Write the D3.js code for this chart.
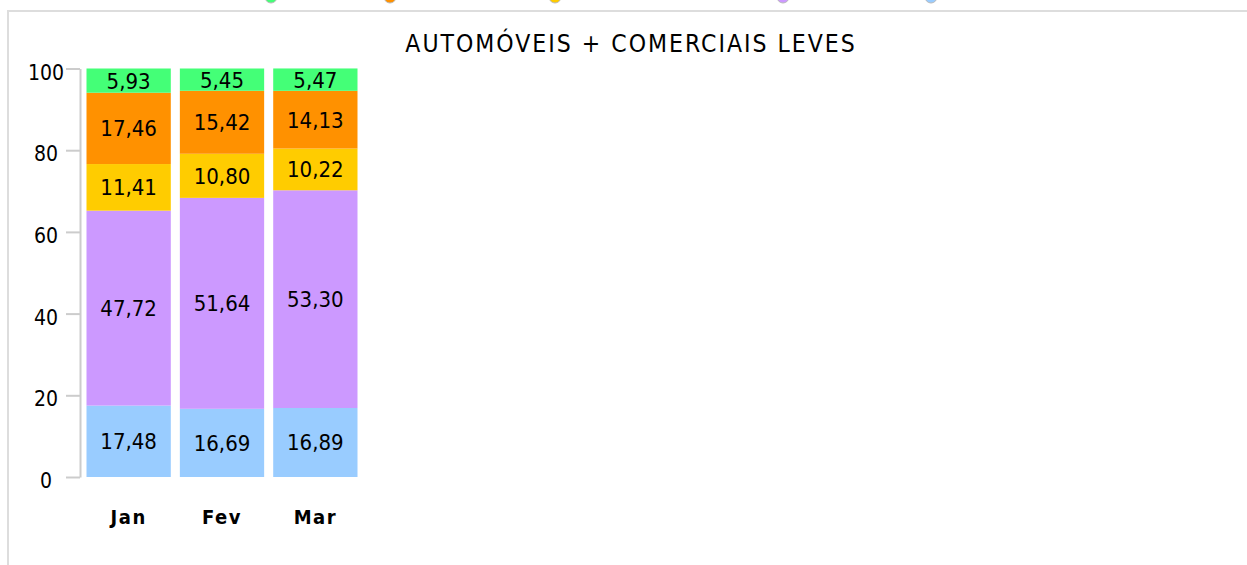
<!DOCTYPE html>
<html>
<head>
<meta charset="utf-8">
<script src="https://cdn.jsdelivr.net/npm/d3@7"></script>
<style>
    html, body { margin: 0; padding: 0; background: #fff; overflow: hidden; }
    svg { display: block; font-family: "DejaVu Sans Condensed", "DejaVu Sans", sans-serif; }
</style>
</head>
<body>
<div class="chart"></div>
<script>
'use strict';

/*---------------------------------------------------------------
data
---------------------------------------------------------------*/
var months = ['Jan', 'Fev', 'Mar'];

// stacked bottom -> top
var serieAzul    = [17.48, 16.69, 16.89];
var serieLilas   = [47.72, 51.64, 53.30];
var serieAmarela = [11.41, 10.80, 10.22];
var serieLaranja = [17.46, 15.42, 14.13];
var serieVerde   = [5.93, 5.45, 5.47];

var seriesKeys = ['azul', 'lilas', 'amarela', 'laranja', 'verde'];
var seriesVals = [serieAzul, serieLilas, serieAmarela, serieLaranja, serieVerde];
var seriesColors = ['#99ccff', '#cc99ff', '#ffcc00', '#ff9100', '#44ff77'];

var yTicks = [0, 20, 40, 60, 80, 100];
var title = 'AUTOMÓVEIS + COMERCIAIS LEVES';

// legend (left -> right), only the dots are visible at the top edge
var legendKeys = ['verde', 'laranja', 'amarela', 'lilas', 'azul'];
var legendX = [271, 390, 555, 783, 931];

/*---------------------------------------------------------------
build table
---------------------------------------------------------------*/
var table = months.map(function(m, i) {
    var row = { month: m };
    seriesKeys.forEach(function(k, j) { row[k] = seriesVals[j][i]; });
    return row;
});

var color = d3.scaleOrdinal().domain(seriesKeys).range(seriesColors);
var stacked = d3.stack().keys(seriesKeys)(table);

var fmt = d3.formatLocale({ decimal: ',', thousands: '.', grouping: [3], currency: ['R$', ''] }).format('.2f');

/*---------------------------------------------------------------
set width + height
---------------------------------------------------------------*/
var w = 1247,
    h = 565;

var svg = d3.select('.chart')
    .append('svg')
    .attr('width', w)
    .attr('height', h);

// frame
svg.append('rect')
    .attr('x', 8)
    .attr('y', 11)
    .attr('width', w)
    .attr('height', h)
    .attr('fill', 'none')
    .attr('stroke', '#dddddd')
    .attr('stroke-width', 2);

// legend dots (cut off by the top edge)
svg.selectAll('circle.leg')
    .data(legendKeys)
    .enter()
    .append('circle')
    .attr('class', 'leg')
    .attr('cx', function(d, i) { return legendX[i]; })
    .attr('cy', -3)
    .attr('r', 6)
    .attr('fill', function(d) { return color(d); })
    .attr('stroke', '#bbbbbb')
    .attr('stroke-width', 1);

// title
svg.append('text')
    .attr('x', 631)
    .attr('y', 52)
    .attr('text-anchor', 'middle')
    .attr('font-size', 24.5)
    .attr('letter-spacing', 2)
    .attr('fill', '#000')
    .text(title);

/*---------------------------------------------------------------
scales
---------------------------------------------------------------*/
var y = d3.scaleLinear().domain([0, 100]).range([477, 68.5]);

var x = d3.scaleBand()
    .domain(months)
    .range([86.5, 357.5])
    .paddingInner(0.097)
    .paddingOuter(0);

/*---------------------------------------------------------------
y axis
---------------------------------------------------------------*/
var yAxis = svg.append('g')
    .attr('transform', 'translate(80,0)')
    .call(d3.axisLeft(y).tickValues(yTicks).tickSize(14).tickSizeOuter(0).tickPadding(0));

yAxis.select('.domain')
    .attr('stroke', '#cccccc')
    .attr('stroke-width', 2);

yAxis.selectAll('.tick line')
    .attr('stroke', '#cccccc')
    .attr('stroke-width', 2);

yAxis.selectAll('.tick text')
    .attr('x', -34)
    .attr('dy', '0.5em')
    .attr('text-anchor', 'middle')
    .attr('font-size', 21)
    .attr('font-family', '"DejaVu Sans Condensed", "DejaVu Sans", sans-serif')
    .attr('fill', '#000');

/*---------------------------------------------------------------
bars
---------------------------------------------------------------*/
var layers = svg.selectAll('g.layer')
    .data(stacked)
    .enter()
    .append('g')
    .attr('class', 'layer')
    .attr('fill', function(d) { return color(d.key); });

layers.selectAll('rect')
    .data(function(d) { return d; })
    .enter()
    .append('rect')
    .attr('x', function(d) { return x(d.data.month); })
    .attr('y', function(d) { return y(d[1]); })
    .attr('width', x.bandwidth())
    .attr('height', function(d) { return y(d[0]) - y(d[1]); });

// value labels
layers.selectAll('text')
    .data(function(d) { return d; })
    .enter()
    .append('text')
    .attr('x', function(d) { return x(d.data.month) + x.bandwidth() / 2; })
    .attr('y', function(d) { return (y(d[0]) + y(d[1])) / 2; })
    .attr('dy', '0.36em')
    .attr('text-anchor', 'middle')
    .attr('font-size', 22)
    .attr('fill', '#000')
    .text(function(d) { return fmt(d[1] - d[0]); });

/*---------------------------------------------------------------
x labels
---------------------------------------------------------------*/
svg.selectAll('text.xlab')
    .data(months)
    .enter()
    .append('text')
    .attr('class', 'xlab')
    .attr('x', function(d) { return x(d) + x.bandwidth() / 2; })
    .attr('y', 524)
    .attr('text-anchor', 'middle')
    .attr('font-size', 20)
    .attr('font-weight', 'bold')
    .attr('letter-spacing', 1.5)
    .attr('fill', '#000')
    .text(function(d) { return d; });
</script>
</body>
</html>
